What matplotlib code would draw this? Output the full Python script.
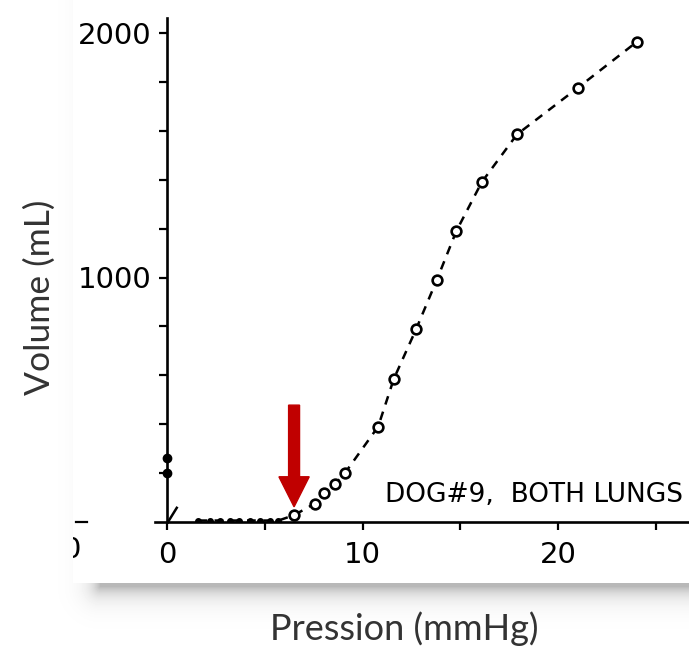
import numpy as np
import matplotlib.pyplot as plt
from matplotlib.patches import FancyArrow

# baseline readings (filled dots on the pressure axis)
base_p = [1.6, 2.2, 2.7, 3.2, 3.7, 4.25, 4.75, 5.25, 5.7]
base_v = [6, 6, 6, 6, 6, 6, 6, 6, 6]
# inflation curve (open circles)
curve_p = [6.5, 7.55, 8.05, 8.6, 9.1, 10.8, 11.6, 12.75, 13.8, 14.8, 16.1, 17.9, 21.0, 24.05]
curve_v = [28, 75, 118, 155, 200, 390, 585, 790, 990, 1190, 1390, 1585, 1775, 1965]
# marks drawn on the volume axis
axis_p = [0, 0]
axis_v = [262, 200]
slash_p = [0.05, 0.5]
slash_v = [0, 58]
arrow_p = 6.5
arrow_top = 478
arrow_tip = 62

W, H = 689, 651
fig = plt.figure(figsize=(W / 100, H / 100), dpi=100)


def fx(px):
    return px / W


def fy(py):
    return 1 - py / H


# soft drop shadow under the scanned page
sh = fig.add_axes([0, 0, 1, 1], zorder=-3)
yy, xx = np.mgrid[0:H, 0:W]
dx = np.maximum(0, 100 - xx)
dy = np.maximum(0, yy - 586)
d = np.hypot(dx, dy)
shade = 1 - 0.28 * np.exp(-d / 10.0)
sh.imshow(shade, cmap="gray", vmin=0, vmax=1, extent=[0, 1, 0, 1], aspect="auto")
sh.axis("off")

# the white page
page = fig.add_axes([fx(73), fy(583), 1 - fx(73), fy(0) - fy(583)], zorder=-2)
page.set_facecolor("white")
page.set_xticks([])
page.set_yticks([])
for s in page.spines.values():
    s.set_visible(False)
# remains of the neighbouring panel, cut by the page edge
page.text(fx(71), fy(550), "0", transform=fig.transFigure, fontsize=21,
          ha="center", va="center", clip_on=True)
page.plot([fx(76), fx(87)], [fy(522), fy(522)], transform=fig.transFigure,
          color="black", lw=1.6, clip_on=True)

ax = fig.add_axes([fx(155), fy(522), 1 - fx(155), fy(18) - fy(522)])
ax.set_facecolor("none")
ax.set_xlim(-12 / 19.55, (W - 167) / 19.55)
ax.set_ylim(0, 504 / 0.2445)

for s in ["top", "right"]:
    ax.spines[s].set_visible(False)
ax.spines["left"].set_position(("data", 0))
ax.spines["left"].set_linewidth(1.9)
ax.spines["bottom"].set_linewidth(1.9)

ax.set_xticks([0, 10, 20])
ax.set_xticks([5, 15, 25], minor=True)
ax.set_yticks([1000, 2000])
ax.set_yticks(np.arange(200, 2000, 200), minor=True)
ax.set_yticklabels(["1000", "2000"])
ax.tick_params(axis="x", which="both", direction="out", length=6, width=1.6,
               labelsize=21, pad=8)
ax.tick_params(axis="y", which="both", direction="out", length=6, width=1.6,
               labelsize=21, pad=5)

ax.plot(base_p + curve_p, base_v + curve_v, color="black", lw=1.8,
        dashes=(3.5, 3), zorder=2)
ax.plot(base_p, base_v, "o", ms=4, color="black", zorder=3)
ax.plot(curve_p, curve_v, "o", ms=7, mfc="white", mec="black", mew=1.9, zorder=3)
ax.plot(axis_p, axis_v, "o", ms=6, color="black", zorder=3, clip_on=False)
ax.plot(slash_p, slash_v, color="black", lw=1.8)

ax.text(11.15, 82, "DOG#9,  BOTH LUNGS", fontsize=19, ha="left",
        va="baseline", clip_on=False)

ax.add_patch(FancyArrow(arrow_p, arrow_top, 0, arrow_tip - arrow_top, width=0.56,
                        head_width=1.55, head_length=123,
                        length_includes_head=True, color="#C00000", zorder=4))

fig.text(fx(404), fy(629), "Pression (mmHg)", family="Lato",
         fontsize=26, ha="center", va="center", color="#333333")
fig.text(fx(40), fy(297), "Volume (mL)", family="Lato",
         fontsize=25.5, rotation=90, ha="center", va="center", color="#333333")

fig.savefig("out.png", dpi=100)
